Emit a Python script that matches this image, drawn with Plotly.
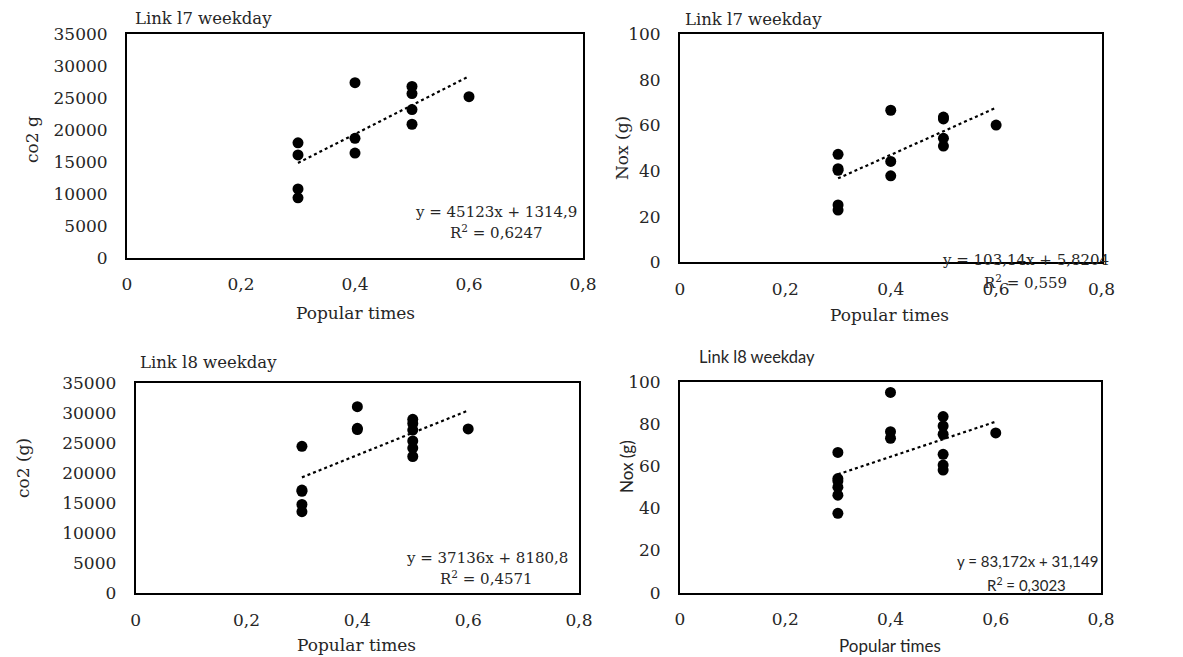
import plotly.graph_objects as go

# page is rendered with an 8px body margin; figure fills the rest of the window
OFF = 8
W, H = 1183 - OFF, 657 - OFF

# ---- data ----
l7_co2_x = [0.3, 0.3, 0.3, 0.3, 0.4, 0.4, 0.4, 0.5, 0.5, 0.5, 0.5, 0.6]
l7_co2_y = [18000, 16100, 10800, 9400, 27400, 18700, 16400, 26800, 25700, 23200, 20900, 25200]
l7_co2_fit = [45123, 1314.9]

l7_nox_x = [0.3, 0.3, 0.3, 0.3, 0.3, 0.4, 0.4, 0.4, 0.5, 0.5, 0.5, 0.5, 0.6]
l7_nox_y = [47.3, 41.0, 40.3, 25.1, 22.9, 66.6, 44.2, 37.9, 63.6, 62.8, 54.3, 50.9, 60.1]
l7_nox_fit = [103.14, 5.8204]

l8_co2_x = [0.3, 0.3, 0.3, 0.3, 0.3, 0.4, 0.4, 0.4, 0.5, 0.5, 0.5, 0.5, 0.5, 0.5, 0.6]
l8_co2_y = [24500, 17200, 17000, 14800, 13600, 31100, 27500, 27300,
            29000, 28300, 27200, 25400, 24200, 22800, 27400]
l8_co2_fit = [37136, 8180.8]

l8_nox_x = [0.3, 0.3, 0.3, 0.3, 0.3, 0.3, 0.4, 0.4, 0.4, 0.5, 0.5, 0.5, 0.5, 0.5, 0.5, 0.6]
l8_nox_y = [66.5, 54.1, 52.9, 50.0, 46.2, 37.6, 94.9, 76.3, 73.2,
            83.5, 79.0, 75.1, 65.6, 60.5, 58.1, 75.7]
l8_nox_fit = [83.172, 31.149]

x_ticks = [0, 0.2, 0.4, 0.6, 0.8]
x_tick_labels = ["0", "0,2", "0,4", "0,6", "0,8"]
co2_ticks = [0, 5000, 10000, 15000, 20000, 25000, 30000, 35000]
co2_tick_labels = ["0", "5000", "10000", "15000", "20000", "25000", "30000", "35000"]
nox_ticks = [0, 20, 40, 60, 80, 100]
nox_tick_labels = ["0", "20", "40", "60", "80", "100"]

titles = ["Link l7 weekday", "Link l7 weekday", "Link l8 weekday", "Link l8 weekday"]
y_titles = ["co2 g", "Nox (g)", "co2 (g)", "Nox (g)"]
x_title = "Popular times"
equations = ["y = 45123x + 1314,9", "y = 103,14x + 5,8204", "y = 37136x + 8180,8", "y = 83,172x + 31,149"]
r2_texts = ["R<sup>2</sup> = 0,6247", "R<sup>2</sup> = 0,559", "R<sup>2</sup> = 0,4571", "R<sup>2</sup> = 0,3023"]

SERIF = "DejaVu Serif"
SANS = "Lato"
TXT = "#262626"

panels = [
    dict(x=l7_co2_x, y=l7_co2_y, fit=l7_co2_fit, yr=[0, 35000], yt=co2_ticks, ytt=co2_tick_labels,
         box=(127, 583, 34, 258), font=SERIF),
    dict(x=l7_nox_x, y=l7_nox_y, fit=l7_nox_fit, yr=[0, 100], yt=nox_ticks, ytt=nox_tick_labels,
         box=(680, 1101.5, 34, 262.3), font=SERIF),
    dict(x=l8_co2_x, y=l8_co2_y, fit=l8_co2_fit, yr=[0, 35000], yt=co2_ticks, ytt=co2_tick_labels,
         box=(135.7, 579, 383.3, 593.3), font=SERIF),
    dict(x=l8_nox_x, y=l8_nox_y, fit=l8_nox_fit, yr=[0, 100], yt=nox_ticks, ytt=nox_tick_labels,
         box=(680, 1101, 381.7, 592.7), font=SANS),
]

# annotation positions (page pixels)
ann_pos = [
    dict(title=(133, 18), ytitle=(32, 140), xtitle=(355, 313), eq=(496, 212), r2=(496, 232)),
    dict(title=(683, 20), ytitle=(622, 148), xtitle=(890, 315), eq=(1025, 260), r2=(1025, 282)),
    dict(title=(138, 362), ytitle=(23, 468), xtitle=(356, 645), eq=(487, 558), r2=(486, 578)),
    dict(title=(697, 357), ytitle=(626, 467), xtitle=(890, 645), eq=(1027, 561), r2=(1026, 584)),
]

def px(x):
    return (x - OFF) / W

def py(y):
    return 1 - (y - OFF) / H

fig = go.Figure()
layout = dict(width=W, height=H, margin=dict(l=0, r=0, t=0, b=0, autoexpand=False),
              paper_bgcolor="white", plot_bgcolor="white", showlegend=False,
              annotations=[])

for i, p in enumerate(panels):
    n = "" if i == 0 else str(i + 1)
    xa, ya = "x" + n, "y" + n
    fig.add_trace(go.Scatter(x=p["x"], y=p["y"], mode="markers", xaxis=xa, yaxis=ya,
                             marker=dict(color="black", size=11)))
    slope, icpt = p["fit"]
    x0, x1 = min(p["x"]), max(p["x"])
    fig.add_trace(go.Scatter(x=[x0, x1], y=[slope * x0 + icpt, slope * x1 + icpt],
                             mode="lines", xaxis=xa, yaxis=ya,
                             line=dict(color="black", width=2.2, dash="dot")))
    l, r, t, b = p["box"]
    layout["xaxis" + n] = dict(domain=[px(l), px(r)], range=[0, 0.8], anchor=ya,
                               tickvals=x_ticks, ticktext=x_tick_labels, automargin=False,
                               showgrid=False, zeroline=False, showline=True, mirror=True,
                               linecolor="black", linewidth=2, ticks="",
                               ticklabelstandoff=10,
                               tickfont=dict(family=SERIF, size=17, color=TXT))
    layout["yaxis" + n] = dict(domain=[py(b), py(t)], range=p["yr"], anchor=xa,
                               tickvals=p["yt"], ticktext=p["ytt"], automargin=False,
                               showgrid=False, zeroline=False,
                               showline=True, mirror=True, linecolor="black", linewidth=2,
                               ticks="", ticklabelstandoff=14,
                               tickfont=dict(family=SERIF, size=17, color=TXT))
    f = p["font"]
    a = ann_pos[i]
    anns = layout["annotations"]
    anns.append(dict(text=titles[i], x=px(a["title"][0]), y=py(a["title"][1]), xref="paper", yref="paper",
                     xanchor="left", yanchor="middle", showarrow=False,
                     font=dict(family=f, size=16.5, color=TXT)))
    anns.append(dict(text=y_titles[i], x=px(a["ytitle"][0]), y=py(a["ytitle"][1]), xref="paper", yref="paper",
                     xanchor="center", yanchor="middle", showarrow=False, textangle=-90,
                     font=dict(family=f, size=17, color=TXT)))
    anns.append(dict(text=x_title, x=px(a["xtitle"][0]), y=py(a["xtitle"][1]), xref="paper", yref="paper",
                     xanchor="center", yanchor="middle", showarrow=False,
                     font=dict(family=f, size=17, color=TXT)))
    anns.append(dict(text=equations[i], x=px(a["eq"][0]), y=py(a["eq"][1]), xref="paper", yref="paper",
                     xanchor="center", yanchor="middle", showarrow=False,
                     font=dict(family=f, size=15, color=TXT)))
    anns.append(dict(text=r2_texts[i], x=px(a["r2"][0]), y=py(a["r2"][1]), xref="paper", yref="paper",
                     xanchor="center", yanchor="middle", showarrow=False,
                     font=dict(family=f, size=15, color=TXT)))

fig.update_layout(**layout)
fig.write_html("out.html")
